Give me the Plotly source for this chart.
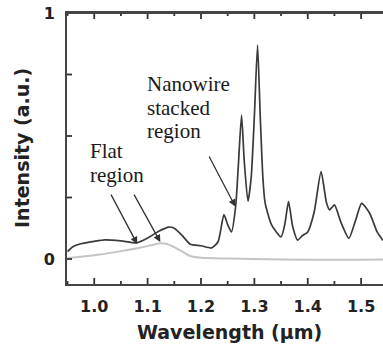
import plotly.graph_objects as go

# Nanowire stacked region spectrum (dark curve)
wl_nw = [0.950, 0.960, 0.975, 1.000, 1.020, 1.050, 1.080, 1.100, 1.120, 1.140, 1.150,
         1.165, 1.180, 1.200, 1.220, 1.232, 1.243, 1.250, 1.257, 1.265, 1.270, 1.276,
         1.281, 1.288, 1.294, 1.300, 1.306, 1.311, 1.316, 1.320, 1.332, 1.350, 1.357,
         1.364, 1.372, 1.381, 1.390, 1.400, 1.412, 1.425, 1.435, 1.441, 1.450, 1.462,
         1.477, 1.490, 1.501, 1.516, 1.530, 1.541]
int_nw = [0.030, 0.050, 0.062, 0.072, 0.078, 0.074, 0.066, 0.085, 0.112, 0.130, 0.125,
          0.095, 0.060, 0.054, 0.045, 0.070, 0.180, 0.140, 0.110, 0.215, 0.380, 0.585,
          0.400, 0.235, 0.330, 0.580, 0.870, 0.580, 0.330, 0.230, 0.140, 0.090, 0.140,
          0.233, 0.130, 0.077, 0.095, 0.110, 0.190, 0.355, 0.230, 0.200, 0.220, 0.150,
          0.084, 0.160, 0.226, 0.186, 0.110, 0.075]

# Flat region spectrum (light curve)
wl_flat = [0.950, 0.980, 1.010, 1.050, 1.086, 1.110, 1.124, 1.135, 1.150, 1.165, 1.180,
           1.200, 1.250, 1.300, 1.400, 1.500, 1.541]
int_flat = [0.004, 0.010, 0.018, 0.032, 0.046, 0.058, 0.064, 0.062, 0.048, 0.030, 0.012,
            0.005, 0.002, 0.000, -0.003, -0.003, -0.002]

x_ticks = [1.0, 1.1, 1.2, 1.3, 1.4, 1.5]
x_ticktext = ["<b>1.0</b>", "<b>1.1</b>", "<b>1.2</b>", "<b>1.3</b>", "<b>1.4</b>", "<b>1.5</b>"]
x_minor = [0.95, 1.05, 1.15, 1.25, 1.35, 1.45]
y_ticks = [0, 0.25, 0.5, 0.75, 1.0]
y_ticktext = ["<b>0</b>", "", "", "", "<b>1</b>"]

X_RANGE = [0.949, 1.541]
Y_RANGE = [-0.1016, 1.0]
AX = "#333333"

fig = go.Figure()
fig.add_trace(go.Scatter(x=wl_flat, y=int_flat, mode="lines",
                         line=dict(color="#c4c4c4", width=2, shape="spline", smoothing=0.6),
                         showlegend=False, hoverinfo="skip"))
fig.add_trace(go.Scatter(x=wl_nw, y=int_nw, mode="lines",
                         line=dict(color="#3a3a3a", width=1.7, shape="spline", smoothing=0.6),
                         showlegend=False, hoverinfo="skip"))

# inward tick marks and top frame line, drawn as pixel-sized shapes anchored to the axes
tick_line = dict(color=AX, width=1.8)
for t in x_ticks:
    fig.add_shape(type="line", xref="x", yref="paper", ysizemode="pixel", yanchor=0,
                  x0=t, x1=t, y0=0, y1=6, line=tick_line, layer="above")
    fig.add_shape(type="line", xref="x", yref="paper", ysizemode="pixel", yanchor=1,
                  x0=t, x1=t, y0=0, y1=-6, line=tick_line, layer="above")
for t in x_minor:
    fig.add_shape(type="line", xref="x", yref="paper", ysizemode="pixel", yanchor=0,
                  x0=t, x1=t, y0=0, y1=3, line=tick_line, layer="above")
    fig.add_shape(type="line", xref="x", yref="paper", ysizemode="pixel", yanchor=1,
                  x0=t, x1=t, y0=0, y1=-3, line=tick_line, layer="above")
for t in y_ticks:
    fig.add_shape(type="line", xref="paper", yref="y", xsizemode="pixel", xanchor=0,
                  x0=0, x1=5, y0=t, y1=t, line=tick_line, layer="above")
fig.add_shape(type="line", xref="paper", yref="paper", x0=0, x1=1, y0=1, y1=1,
              line=dict(color="#444", width=2), layer="above")

serif = dict(family="Liberation Serif", size=21, color="#1a1a1a")
labels = [("Nanowire", 1.0956, 0.711), ("stacked", 1.0956, 0.614), ("region", 1.0956, 0.520),
          ("Flat", 0.9888, 0.439), ("region", 0.9888, 0.341)]
for txt, xx, yy in labels:
    fig.add_annotation(x=xx, y=yy, xref="x", yref="y", text=txt, showarrow=False,
                       xanchor="left", yanchor="middle", font=serif)

arrows = [((1.2138, 0.423), (1.2644, 0.213)),
          ((1.030, 0.268), (1.0806, 0.061)),
          ((1.0731, 0.268), (1.1238, 0.069))]
for (tx, ty), (hx, hy) in arrows:
    fig.add_annotation(x=hx, y=hy, ax=tx, ay=ty, xref="x", yref="y", axref="x", ayref="y",
                       text="", showarrow=True, arrowhead=2, arrowsize=1.1, arrowwidth=1.3,
                       arrowcolor="#333333")

sans = "DejaVu Sans"
fig.add_annotation(x=-0.1424, y=0.502, xref="paper", yref="paper", text="<b>Intensity (a.u.)</b>",
                   showarrow=False, textangle=-90, font=dict(family=sans, size=19, color="#222"),
                   xanchor="center", yanchor="middle")
fig.add_annotation(x=0.513, y=-0.177, xref="paper", yref="paper", text="<b>Wavelength (µm)</b>",
                   showarrow=False, font=dict(family=sans, size=19, color="#222"),
                   xanchor="center", yanchor="middle")

fig.update_layout(
    width=383, height=350, margin=dict(l=67, r=0, t=13, b=66),
    plot_bgcolor="white", paper_bgcolor="white",
    xaxis=dict(range=X_RANGE, tickvals=x_ticks, ticktext=x_ticktext,
               ticks="outside", ticklen=7, tickcolor="rgba(0,0,0,0)",
               showline=True, linecolor="#444", linewidth=2, mirror=True,
               showgrid=False, zeroline=False,
               tickfont=dict(family=sans, size=16, color="#222")),
    yaxis=dict(range=Y_RANGE, tickvals=y_ticks, ticktext=y_ticktext,
               ticks="outside", ticklen=7, tickcolor="rgba(0,0,0,0)",
               showline=True, linecolor="#444", linewidth=2, mirror=False,
               showgrid=False, zeroline=False,
               tickfont=dict(family=sans, size=16, color="#222")),
)
fig.write_html("out.html")
